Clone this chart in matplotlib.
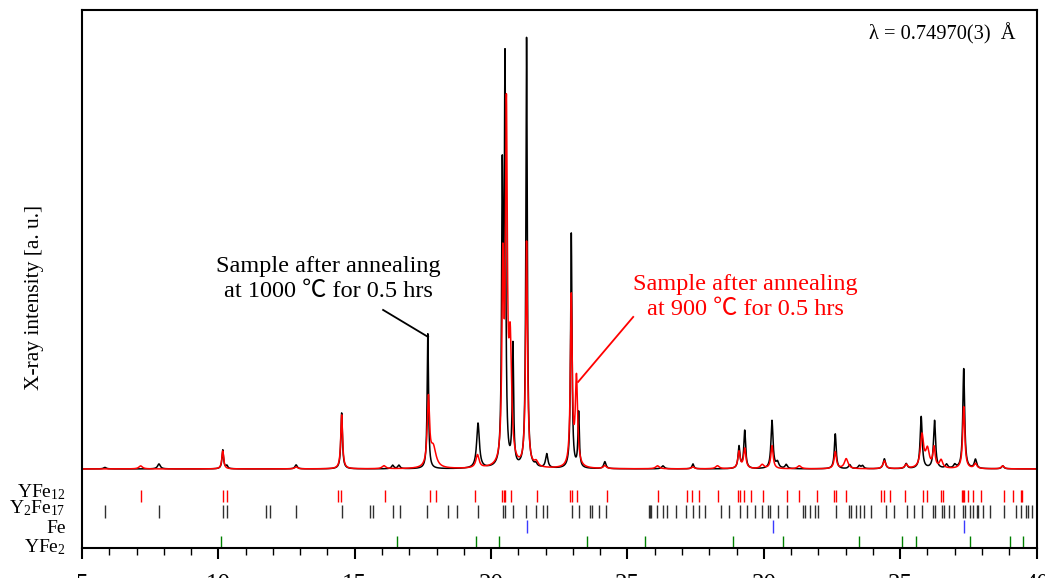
import numpy as np
import matplotlib
matplotlib.use("Agg")
import matplotlib.pyplot as plt
from matplotlib.ticker import MultipleLocator
from matplotlib.transforms import blended_transform_factory

plt.rcParams["font.family"] = ["Liberation Serif", "Noto Sans CJK SC", "DejaVu Sans"]
plt.rcParams["mathtext.fontset"] = "custom"
plt.rcParams["mathtext.rm"] = "Liberation Serif"
plt.rcParams["mathtext.it"] = "Liberation Serif"

# Peak list: position (2theta), height (a.u.), half width
black_pos = [5.84, 7.82, 10.16, 10.31, 12.85, 14.52, 16.39, 16.62, 17.68, 19.52,
             20.41, 20.51, 20.80, 21.30, 21.64, 22.04, 22.94, 23.21, 24.17, 26.30,
             27.40, 29.09, 29.30, 30.30, 30.50, 30.82, 32.62, 33.15, 33.50, 33.62,
             34.42, 35.22, 35.77, 36.26, 36.70, 37.00, 37.33, 37.76, 38.76]
black_hgt = [1.5, 5, 19, 3, 4, 56, 3.5, 3.5, 135, 45,
             280, 395, 120, 430, 3, 14, 235, 55, 7, 3,
             5, 22, 38, 48, 6, 4, 35, 4, 3, 3,
             10, 5, 52, 48, 4, 3.5, 100, 9, 3]
black_wid = [0.06, 0.06, 0.035, 0.04, 0.05, 0.035, 0.05, 0.05, 0.03, 0.06,
             0.03, 0.03, 0.03, 0.03, 0.05, 0.05, 0.03, 0.03, 0.05, 0.06,
             0.04, 0.04, 0.04, 0.045, 0.06, 0.05, 0.04, 0.05, 0.05, 0.05,
             0.05, 0.05, 0.045, 0.045, 0.05, 0.05, 0.04, 0.05, 0.05]

red_pos = [7.15, 10.16, 12.85, 14.52, 16.07, 17.70, 17.88, 19.50, 20.43, 20.56,
           20.70, 21.30, 21.65, 22.94, 23.13, 24.17, 26.10, 27.40, 28.30, 29.09,
           29.30, 29.94, 30.30, 31.30, 32.62, 33.02, 34.42, 35.22, 35.80, 36.00,
           36.24, 36.50, 37.33, 37.76, 38.76]
red_hgt = [3, 18, 2, 54, 3, 68, 20, 13, 190, 340,
           115, 225, 5, 170, 88, 3, 3, 2, 3, 17,
           20, 4, 23, 3, 17, 10, 8, 4, 33, 18,
           20, 8, 62, 5, 3]
red_wid = [0.08, 0.04, 0.06, 0.04, 0.08, 0.05, 0.12, 0.07, 0.04, 0.04,
           0.06, 0.04, 0.08, 0.04, 0.05, 0.06, 0.08, 0.06, 0.08, 0.05,
           0.05, 0.08, 0.05, 0.08, 0.05, 0.08, 0.06, 0.06, 0.07, 0.08,
           0.05, 0.07, 0.045, 0.06, 0.06]

# Reflection positions of each phase
yfe12_ticks = [7.17, 10.16, 10.31, 14.40, 14.50, 16.11, 17.75, 17.99, 19.41, 20.41,
               20.46, 20.51, 20.72, 21.69, 22.89, 22.96, 23.14, 24.26, 26.13, 27.20,
               27.36, 27.64, 28.33, 29.07, 29.13, 29.28, 29.52, 29.96, 30.86, 31.30,
               31.94, 32.59, 32.64, 33.00, 34.29, 34.41, 34.63, 35.18, 35.85, 35.97,
               36.49, 36.56, 37.26, 37.32, 37.35, 37.50, 37.68, 37.97, 38.82, 39.15,
               39.42, 39.48]
y2fe17_ticks = [5.85, 7.81, 10.16, 10.33, 11.74, 11.89, 12.85, 14.52, 15.56, 15.68,
                16.40, 16.65, 17.66, 18.41, 18.74, 19.53, 20.43, 20.52, 20.82, 21.27,
                21.64, 21.91, 22.06, 22.96, 23.21, 23.63, 23.71, 23.97, 24.20, 25.78,
                25.83, 25.87, 26.10, 26.32, 26.46, 26.77, 27.14, 27.39, 27.64, 27.85,
                28.42, 28.73, 29.13, 29.40, 29.68, 29.92, 30.14, 30.23, 30.53, 30.86,
                31.43, 31.51, 31.70, 31.88, 31.98, 32.64, 33.14, 33.21, 33.37, 33.53,
                33.68, 33.92, 34.47, 34.79, 35.26, 35.51, 35.79, 36.19, 36.28, 36.53,
                36.61, 36.80, 36.99, 37.32, 37.38, 37.56, 37.68, 37.81, 37.87, 38.05,
                38.30, 38.82, 39.25, 39.43, 39.62, 39.70, 39.83]
fe_ticks = [21.31, 30.33, 37.35]
yfe2_ticks = [10.11, 16.55, 19.45, 20.30, 23.51, 25.65, 28.88, 30.69, 33.49, 35.07,
              35.58, 37.56, 39.03, 39.50]

phase_names = ["YFe$_{12}$", "Y$_2$Fe$_{17}$", "Fe", "YFe$_2$"]


def profile(x, pos, hgt, wid):
    y = np.zeros_like(x)
    for p, h, w in zip(pos, hgt, wid):
        y += h / (1.0 + ((x - p) / w) ** 2)
    return y


x = np.linspace(5, 40, 14001)
y_black = profile(x, black_pos, black_hgt, black_wid)
y_red = profile(x, red_pos, red_hgt, red_wid)

fig = plt.figure(figsize=(10.45, 5.78), dpi=100)
ax = fig.add_axes([0.0785, 0.052, 0.9134, 0.9308])

ax.plot(x, y_black, color="black", lw=1.1)
ax.plot(x, y_red, color="red", lw=1.1)

rows = [(yfe12_ticks, "red", -21, -33),
        (y2fe17_ticks, "#303030", -36, -49),
        (fe_ticks, "#3a3aff", -51, -64),
        (yfe2_ticks, "green", -67, -79)]
for ticks, col, y0, y1 in rows:
    ax.vlines(ticks, y1, y0, color=col, lw=1.0)

trans = blended_transform_factory(ax.transAxes, ax.transData)
for name, yb in zip(phase_names, [-28, -44, -64, -83]):
    ax.text(-0.017, yb, name, transform=trans, ha="right", va="baseline",
            fontsize=14, clip_on=False)

ax.set_xlim(5, 40)
ax.set_ylim(-79, 459)
ax.set_yticks([])
ax.xaxis.set_major_locator(MultipleLocator(5))
ax.xaxis.set_minor_locator(MultipleLocator(1))
ax.tick_params(axis="x", which="major", direction="out", length=8, width=1.5,
               labelsize=18, pad=11)
ax.tick_params(axis="x", which="minor", direction="out", length=5, width=1.0)
for s in ax.spines.values():
    s.set_linewidth(1.5)

fig.text(35 / 1045, 0.486, "X-ray intensity [a. u.]", rotation=90,
         ha="center", va="center", fontsize=15.5)

ax.text(14.02, 190, "Sample after annealing\nat 1000 \u2103 for 0.5 hrs",
        ha="center", va="center", fontsize=17.5, linespacing=1.3)
ax.plot([16.04, 17.69], [159, 132], color="black", lw=1.3)

ax.text(29.31, 172, "Sample after annealing\nat 900 \u2103 for 0.5 hrs",
        ha="center", va="center", fontsize=17.5, color="red", linespacing=1.3)
ax.plot([25.21, 23.19], [152, 87], color="red", lw=1.3)

ax.text(0.978, 0.955, "\u03bb = 0.74970(3)  \u00c5", transform=ax.transAxes,
        ha="right", va="center", fontsize=14.7)

fig.savefig("out.png", dpi=100)
